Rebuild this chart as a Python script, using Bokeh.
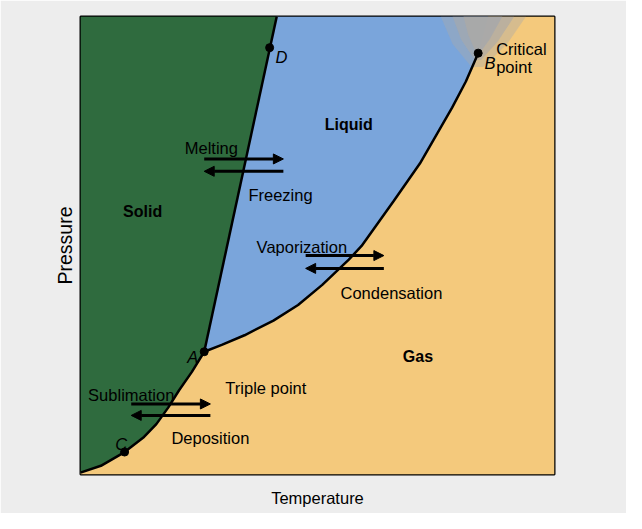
from bokeh.plotting import figure
from bokeh.models import Range1d, Label, Arrow, NormalHead
from bokeh.embed import file_html
from bokeh.resources import INLINE

# ---- data (arbitrary temperature / pressure units, 0..100) ----
sublimation_T = [0.0, 4.3, 9.3, 13.4, 16.0, 18.5, 20.8, 23.5, 26.1]
sublimation_P = [0.4, 1.9, 4.9, 8.2, 11.0, 14.6, 18.4, 22.4, 26.8]

vaporization_T = [26.1, 29.8, 34.6, 40.7, 45.9, 51.0, 56.6, 59.3, 66.0, 71.6, 78.4, 81.3, 83.9]
vaporization_P = [26.8, 28.3, 30.4, 33.6, 37.0, 41.4, 46.9, 49.9, 59.6, 67.9, 80.1, 85.8, 92.0]

melting_T = [26.1, 41.4]
melting_P = [26.8, 100.0]

supercritical_edge_T = [86.0]   # liquid/gas boundary continued above B, at top edge

point_names = ["A", "B", "C", "D"]
point_T = [26.1, 83.9, 9.3, 39.9]
point_P = [26.8, 92.0, 4.9, 93.2]

# fuzzy grey supercritical zone (outer, middle, inner)
glow_T = [[76.0, 94.0, 90.0, 85.0, 82.5, 78.5],
          [78.5, 91.5, 88.0, 84.5, 83.2, 80.3],
          [80.8, 89.0, 86.3, 84.2, 83.5, 81.8]]
glow_P = [[100, 100, 94.0, 89.0, 89.0, 94.0],
          [100, 100, 94.5, 90.5, 90.5, 95.0],
          [100, 100, 95.0, 92.0, 92.0, 96.0]]
glow_alpha = [0.4, 0.6, 0.95]

# ---- style ----
FONT = "Liberation Sans"
GREEN = "#2f6b3e"
BLUE = "#7aa5db"
ORANGE = "#f4c97c"
GREY = "#a9a9a9"
BG = "#ededed"

p = figure(width=626, height=513, output_backend="svg", toolbar_location=None,
           x_range=Range1d(0, 100), y_range=Range1d(0, 100),
           min_border_left=80, min_border_right=72, min_border_top=16, min_border_bottom=39)
p.border_fill_color = BG
p.background_fill_color = ORANGE
p.outline_line_color = "black"
p.outline_line_width = 2
p.grid.visible = False

for ax in (p.xaxis[0], p.yaxis[0]):
    ax.ticker = []
    ax.axis_line_color = None
    ax.major_tick_line_color = None
    ax.minor_tick_line_color = None
    ax.axis_label_text_font = FONT
    ax.axis_label_text_font_style = "normal"
    ax.axis_label_text_color = "black"
p.xaxis.axis_label = "Temperature"
p.yaxis.axis_label = "Pressure"
p.xaxis.axis_label_text_font_size = "16.5px"
p.yaxis.axis_label_text_font_size = "19.5px"
p.xaxis.axis_label_standoff = 14
p.yaxis.axis_label_standoff = 5

# regions
top_edge_T = supercritical_edge_T[0]
gas_T = [0] + sublimation_T + vaporization_T[1:] + [top_edge_T, 100, 100]
gas_P = [0] + sublimation_P + vaporization_P[1:] + [100, 100, 0]
p.patch(gas_T, gas_P, fill_color=ORANGE, line_color=None)

solid_T = [0] + sublimation_T + [melting_T[1], 0]
solid_P = [0] + sublimation_P + [melting_P[1], 100]
p.patch(solid_T, solid_P, fill_color=GREEN, line_color=None)

liquid_T = [melting_T[1], top_edge_T] + vaporization_T[::-1]
liquid_P = [melting_P[1], 100] + vaporization_P[::-1]
p.patch(liquid_T, liquid_P, fill_color=BLUE, line_color=None)

for gx, gy, ga in zip(glow_T, glow_P, glow_alpha):
    p.patch(gx, gy, fill_color=GREY, fill_alpha=ga, line_color=None)

# boundary curves
p.line(sublimation_T, sublimation_P, line_color="black", line_width=2.5)
p.line(vaporization_T, vaporization_P, line_color="black", line_width=2.5)
p.line(melting_T, melting_P, line_color="black", line_width=2.5)

p.scatter(point_T, point_P, size=8, color="black")

# arrows (start T, end T, P)
arrows = [(26.1, 42.8, 68.9), (42.8, 26.1, 66.2),
          (47.5, 64.0, 47.8), (64.0, 47.5, 45.0),
          (10.7, 27.4, 15.4), (27.4, 10.7, 12.9)]
for xs, xe, y in arrows:
    p.add_layout(Arrow(x_start=xs, y_start=y, x_end=xe, y_end=y, line_width=3, line_color="black",
                       end=NormalHead(size=10, fill_color="black", line_color="black", line_width=1)))

def lab(x, y, text, size="16.5px", style="normal", align="center"):
    p.add_layout(Label(x=x, y=y, text=text, text_font=FONT, text_font_size=size,
                       text_font_style=style, text_align=align, text_baseline="alphabetic",
                       text_color="black"))

lab(13.1, 57.5, "Solid", size="16px", style="bold")
lab(56.6, 76.5, "Liquid", size="16px", style="bold")
lab(71.2, 25.8, "Gas", size="16px", style="bold")
lab(27.6, 71.2, "Melting")
lab(42.2, 61.1, "Freezing")
lab(46.7, 49.7, "Vaporization")
lab(65.6, 39.7, "Condensation")
lab(10.7, 17.3, "Sublimation")
lab(27.4, 8.0, "Deposition")
lab(39.1, 18.8, "Triple point")
label_pos = {"A": (23.7, 25.6), "B": (86.4, 89.9), "C": (8.6, 6.6), "D": (42.4, 91.1)}
for n in point_names:
    lx, ly = label_pos[n]
    lab(lx, ly, n, style="italic")
lab(87.7, 92.8, "Critical", align="left")
lab(87.7, 89.0, "point", align="left")

open("out.html", "w").write(file_html(p, INLINE))
